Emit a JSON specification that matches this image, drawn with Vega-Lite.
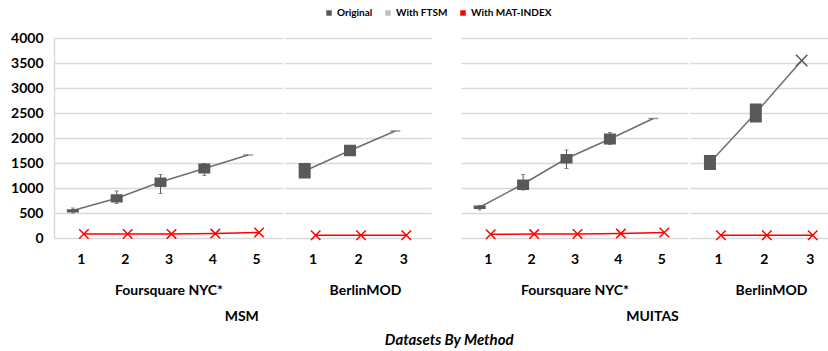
{
  "$schema": "https://vega.github.io/schema/vega-lite/v6.json",
  "padding": {"left": 10, "top": 8, "right": 0, "bottom": 2},
  "background": "white",
  "config": {
    "font": "Lato",
    "view": {"stroke": null},
    "axisX": {"grid": false, "ticks": false, "domain": false, "labelFontSize": 14, "labelFontWeight": "bold", "labelColor": "#000000", "labelPadding": 14, "labelAngle": 0, "titleFontSize": 14, "titleFontWeight": "bold", "titleColor": "#000000", "titlePadding": 17},
    "axisY": {"grid": true, "gridColor": "#d9d9d9", "gridWidth": 1.5, "ticks": false, "domain": false, "labels": false, "minExtent": 0, "maxExtent": 0, "labelOverlap": false}
  },
  "data": {"values": [
    {"method": "MSM", "dataset": "Foursquare NYC*", "x": 1, "series": "Original", "value": 550, "lo": 510, "hi": 575, "elo": 500, "ehi": 600},
    {"method": "MSM", "dataset": "Foursquare NYC*", "x": 2, "series": "Original", "value": 795, "lo": 710, "hi": 875, "elo": 690, "ehi": 940},
    {"method": "MSM", "dataset": "Foursquare NYC*", "x": 3, "series": "Original", "value": 1120, "lo": 1020, "hi": 1210, "elo": 890, "ehi": 1270},
    {"method": "MSM", "dataset": "Foursquare NYC*", "x": 4, "series": "Original", "value": 1390, "lo": 1290, "hi": 1490, "elo": 1250, "ehi": 1490},
    {"method": "MSM", "dataset": "Foursquare NYC*", "x": 5, "series": "Original", "value": 1660},
    {"method": "MSM", "dataset": "BerlinMOD", "x": 1, "series": "Original", "value": 1340, "lo": 1190, "hi": 1500},
    {"method": "MSM", "dataset": "BerlinMOD", "x": 2, "series": "Original", "value": 1750, "lo": 1635, "hi": 1865},
    {"method": "MSM", "dataset": "BerlinMOD", "x": 3, "series": "Original", "value": 2140},
    {"method": "MUITAS", "dataset": "Foursquare NYC*", "x": 1, "series": "Original", "value": 615, "lo": 580, "hi": 650, "elo": 560, "ehi": 650},
    {"method": "MUITAS", "dataset": "Foursquare NYC*", "x": 2, "series": "Original", "value": 1080, "lo": 960, "hi": 1170, "elo": 960, "ehi": 1270},
    {"method": "MUITAS", "dataset": "Foursquare NYC*", "x": 3, "series": "Original", "value": 1590, "lo": 1490, "hi": 1680, "elo": 1390, "ehi": 1760},
    {"method": "MUITAS", "dataset": "Foursquare NYC*", "x": 4, "series": "Original", "value": 1980, "lo": 1870, "hi": 2090, "elo": 1870, "ehi": 2110},
    {"method": "MUITAS", "dataset": "Foursquare NYC*", "x": 5, "series": "Original", "value": 2390},
    {"method": "MUITAS", "dataset": "BerlinMOD", "x": 1, "series": "Original", "value": 1510, "lo": 1360, "hi": 1660},
    {"method": "MUITAS", "dataset": "BerlinMOD", "x": 2, "series": "Original", "value": 2500, "lo": 2310, "hi": 2690},
    {"method": "MUITAS", "dataset": "BerlinMOD", "x": 3, "series": "Original", "value": 3550},
    {"method": "MSM", "dataset": "Foursquare NYC*", "x": 1, "series": "With MAT-INDEX", "value": 80},
    {"method": "MSM", "dataset": "Foursquare NYC*", "x": 2, "series": "With MAT-INDEX", "value": 80},
    {"method": "MSM", "dataset": "Foursquare NYC*", "x": 3, "series": "With MAT-INDEX", "value": 82},
    {"method": "MSM", "dataset": "Foursquare NYC*", "x": 4, "series": "With MAT-INDEX", "value": 88},
    {"method": "MSM", "dataset": "Foursquare NYC*", "x": 5, "series": "With MAT-INDEX", "value": 110},
    {"method": "MSM", "dataset": "BerlinMOD", "x": 1, "series": "With MAT-INDEX", "value": 55},
    {"method": "MSM", "dataset": "BerlinMOD", "x": 2, "series": "With MAT-INDEX", "value": 55},
    {"method": "MSM", "dataset": "BerlinMOD", "x": 3, "series": "With MAT-INDEX", "value": 55},
    {"method": "MUITAS", "dataset": "Foursquare NYC*", "x": 1, "series": "With MAT-INDEX", "value": 75},
    {"method": "MUITAS", "dataset": "Foursquare NYC*", "x": 2, "series": "With MAT-INDEX", "value": 78},
    {"method": "MUITAS", "dataset": "Foursquare NYC*", "x": 3, "series": "With MAT-INDEX", "value": 80},
    {"method": "MUITAS", "dataset": "Foursquare NYC*", "x": 4, "series": "With MAT-INDEX", "value": 88},
    {"method": "MUITAS", "dataset": "Foursquare NYC*", "x": 5, "series": "With MAT-INDEX", "value": 110},
    {"method": "MUITAS", "dataset": "BerlinMOD", "x": 1, "series": "With MAT-INDEX", "value": 55},
    {"method": "MUITAS", "dataset": "BerlinMOD", "x": 2, "series": "With MAT-INDEX", "value": 55},
    {"method": "MUITAS", "dataset": "BerlinMOD", "x": 3, "series": "With MAT-INDEX", "value": 55}
  ]},
  "title": {"text": "Datasets By Method", "orient": "bottom", "anchor": "middle", "frame": "bounds", "dx": 30, "fontSize": 15, "fontStyle": "italic", "fontWeight": "bold", "color": "#000000", "offset": 9},
  "spacing": 30,
  "hconcat": [
    {
      "title": {"text": "MSM", "orient": "bottom", "anchor": "middle", "frame": "bounds", "dx": 21, "fontSize": 14, "fontWeight": "bold", "color": "#000000", "offset": 13},
      "spacing": 2,
      "hconcat": [
        {
          "width": 229, "height": 200,
          "transform": [{"filter": "datum.method == 'MSM' && datum.dataset == 'Foursquare NYC*'"}],
          "encoding": {"x": {"field": "x", "type": "quantitative", "title": "Foursquare NYC*", "scale": {"domain": [0.5, 5.5], "nice": false, "zero": false}, "axis": {"values": [1, 2, 3, 4, 5], "format": "d"}}},
          "layer": [
            {"transform": [{"filter": "datum.series == 'Original'"}], "mark": {"type": "line", "color": "#6e6e6e", "strokeWidth": 1.5, "xOffset": -8}, "encoding": {"y": {"field": "value", "type": "quantitative", "title": null, "scale": {"domain": [0, 4000]}, "axis": {"labels": true, "format": "d", "labelFontSize": 14, "labelFontWeight": "bold", "labelColor": "#000000", "labelPadding": 11, "domain": true, "domainColor": "#d9d9d9", "domainWidth": 1.5, "minExtent": 30, "maxExtent": 100, "values": [0, 500, 1000, 1500, 2000, 2500, 3000, 3500, 4000]}}}},
            {"transform": [{"filter": "datum.series == 'Original' && isValid(datum.elo)"}], "mark": {"type": "rule", "color": "#595959", "strokeWidth": 1, "xOffset": -8}, "encoding": {"y": {"field": "elo", "type": "quantitative", "title": null, "scale": {"domain": [0, 4000]}, "axis": {"labels": true, "format": "d", "labelFontSize": 14, "labelFontWeight": "bold", "labelColor": "#000000", "labelPadding": 11, "domain": true, "domainColor": "#d9d9d9", "domainWidth": 1.5, "minExtent": 30, "maxExtent": 100, "values": [0, 500, 1000, 1500, 2000, 2500, 3000, 3500, 4000]}}, "y2": {"field": "ehi"}}},
            {"transform": [{"filter": "datum.series == 'Original' && isValid(datum.elo)"}, {"fold": ["elo", "ehi"], "as": ["cap", "capValue"]}], "mark": {"type": "tick", "orient": "horizontal", "size": 4, "thickness": 1, "color": "#595959", "xOffset": -8}, "encoding": {"y": {"field": "capValue", "type": "quantitative", "title": null, "scale": {"domain": [0, 4000]}, "axis": {"labels": true, "format": "d", "labelFontSize": 14, "labelFontWeight": "bold", "labelColor": "#000000", "labelPadding": 11, "domain": true, "domainColor": "#d9d9d9", "domainWidth": 1.5, "minExtent": 30, "maxExtent": 100, "values": [0, 500, 1000, 1500, 2000, 2500, 3000, 3500, 4000]}}}},
            {"transform": [{"filter": "datum.series == 'Original' && isValid(datum.lo)"}], "mark": {"type": "bar", "size": 12, "xOffset": -8}, "encoding": {"y": {"field": "lo", "type": "quantitative", "title": null, "scale": {"domain": [0, 4000]}, "axis": {"labels": true, "format": "d", "labelFontSize": 14, "labelFontWeight": "bold", "labelColor": "#000000", "labelPadding": 11, "domain": true, "domainColor": "#d9d9d9", "domainWidth": 1.5, "minExtent": 30, "maxExtent": 100, "values": [0, 500, 1000, 1500, 2000, 2500, 3000, 3500, 4000]}}, "y2": {"field": "hi"}, "color": {"field": "series", "type": "nominal", "scale": {"domain": ["Original", "With FTSM", "With MAT-INDEX"], "range": ["#595959", "#bfbfbf", "#ff0000"]}, "legend": {"title": null, "orient": "none", "direction": "horizontal", "legendX": 270, "legendY": -30, "symbolType": "square", "symbolSize": 30, "symbolStrokeWidth": 0, "labelFontSize": 10, "labelFontWeight": "bold", "labelColor": "#000000", "columnPadding": 10, "labelOffset": 3}}}},
            {"transform": [{"filter": "datum.series == 'Original' && !isValid(datum.lo)"}], "mark": {"type": "tick", "orient": "horizontal", "size": 10, "thickness": 1.5, "color": "#6e6e6e", "xOffset": -8}, "encoding": {"y": {"field": "value", "type": "quantitative", "title": null, "scale": {"domain": [0, 4000]}, "axis": {"labels": true, "format": "d", "labelFontSize": 14, "labelFontWeight": "bold", "labelColor": "#000000", "labelPadding": 11, "domain": true, "domainColor": "#d9d9d9", "domainWidth": 1.5, "minExtent": 30, "maxExtent": 100, "values": [0, 500, 1000, 1500, 2000, 2500, 3000, 3500, 4000]}}}},
            {"transform": [{"filter": "datum.series == 'With MAT-INDEX'"}], "mark": {"type": "line", "color": "#ff0000", "strokeWidth": 1.5, "xOffset": 3}, "encoding": {"y": {"field": "value", "type": "quantitative", "title": null, "scale": {"domain": [0, 4000]}, "axis": {"labels": true, "format": "d", "labelFontSize": 14, "labelFontWeight": "bold", "labelColor": "#000000", "labelPadding": 11, "domain": true, "domainColor": "#d9d9d9", "domainWidth": 1.5, "minExtent": 30, "maxExtent": 100, "values": [0, 500, 1000, 1500, 2000, 2500, 3000, 3500, 4000]}}}},
            {"transform": [{"filter": "datum.series == 'With MAT-INDEX'"}], "mark": {"type": "point", "shape": "M-1,-1L1,1M1,-1L-1,1", "filled": false, "color": "#ff0000", "size": 90, "strokeWidth": 1.5, "opacity": 1, "xOffset": 3}, "encoding": {"y": {"field": "value", "type": "quantitative", "title": null, "scale": {"domain": [0, 4000]}, "axis": {"labels": true, "format": "d", "labelFontSize": 14, "labelFontWeight": "bold", "labelColor": "#000000", "labelPadding": 11, "domain": true, "domainColor": "#d9d9d9", "domainWidth": 1.5, "minExtent": 30, "maxExtent": 100, "values": [0, 500, 1000, 1500, 2000, 2500, 3000, 3500, 4000]}}}}
          ]
        },
        {
          "width": 146, "height": 200,
          "transform": [{"filter": "datum.method == 'MSM' && datum.dataset == 'BerlinMOD'"}],
          "encoding": {"x": {"field": "x", "type": "quantitative", "title": "BerlinMOD", "scale": {"domain": [0.5, 3.5], "nice": false, "zero": false}, "axis": {"values": [1, 2, 3], "format": "d", "titleX": 80}}},
          "layer": [
            {"transform": [{"filter": "datum.series == 'Original'"}], "mark": {"type": "line", "color": "#6e6e6e", "strokeWidth": 1.5, "xOffset": -8}, "encoding": {"y": {"field": "value", "type": "quantitative", "title": null, "scale": {"domain": [0, 4000]}, "axis": {"values": [0, 500, 1000, 1500, 2000, 2500, 3000, 3500, 4000]}}}},
            {"transform": [{"filter": "datum.series == 'Original' && isValid(datum.lo)"}], "mark": {"type": "bar", "size": 12, "xOffset": -8}, "encoding": {"y": {"field": "lo", "type": "quantitative", "title": null, "scale": {"domain": [0, 4000]}, "axis": {"values": [0, 500, 1000, 1500, 2000, 2500, 3000, 3500, 4000]}}, "y2": {"field": "hi"}, "color": {"field": "series", "type": "nominal", "scale": {"domain": ["Original", "With FTSM", "With MAT-INDEX"], "range": ["#595959", "#bfbfbf", "#ff0000"]}, "legend": {"title": null, "orient": "none", "direction": "horizontal", "legendX": 270, "legendY": -30, "symbolType": "square", "symbolSize": 30, "symbolStrokeWidth": 0, "labelFontSize": 10, "labelFontWeight": "bold", "labelColor": "#000000", "columnPadding": 10, "labelOffset": 3}}}},
            {"transform": [{"filter": "datum.series == 'Original' && !isValid(datum.lo)"}], "mark": {"type": "tick", "orient": "horizontal", "size": 10, "thickness": 1.5, "color": "#6e6e6e", "xOffset": -8}, "encoding": {"y": {"field": "value", "type": "quantitative", "title": null, "scale": {"domain": [0, 4000]}, "axis": {"values": [0, 500, 1000, 1500, 2000, 2500, 3000, 3500, 4000]}}}},
            {"transform": [{"filter": "datum.series == 'With MAT-INDEX'"}], "mark": {"type": "line", "color": "#ff0000", "strokeWidth": 1.5, "xOffset": 3}, "encoding": {"y": {"field": "value", "type": "quantitative", "title": null, "scale": {"domain": [0, 4000]}, "axis": {"values": [0, 500, 1000, 1500, 2000, 2500, 3000, 3500, 4000]}}}},
            {"transform": [{"filter": "datum.series == 'With MAT-INDEX'"}], "mark": {"type": "point", "shape": "M-1,-1L1,1M1,-1L-1,1", "filled": false, "color": "#ff0000", "size": 90, "strokeWidth": 1.5, "opacity": 1, "xOffset": 3}, "encoding": {"y": {"field": "value", "type": "quantitative", "title": null, "scale": {"domain": [0, 4000]}, "axis": {"values": [0, 500, 1000, 1500, 2000, 2500, 3000, 3500, 4000]}}}}
          ]
        }
      ]
    },
    {
      "title": {"text": "MUITAS", "orient": "bottom", "anchor": "middle", "frame": "bounds", "dx": 8, "fontSize": 14, "fontWeight": "bold", "color": "#000000", "offset": 13},
      "spacing": 2,
      "hconcat": [
        {
          "width": 227, "height": 200,
          "transform": [{"filter": "datum.method == 'MUITAS' && datum.dataset == 'Foursquare NYC*'"}],
          "encoding": {"x": {"field": "x", "type": "quantitative", "title": "Foursquare NYC*", "scale": {"domain": [0.5, 5.5], "nice": false, "zero": false}, "axis": {"values": [1, 2, 3, 4, 5], "format": "d"}}},
          "layer": [
            {"transform": [{"filter": "datum.series == 'Original'"}], "mark": {"type": "line", "color": "#6e6e6e", "strokeWidth": 1.5, "xOffset": -8}, "encoding": {"y": {"field": "value", "type": "quantitative", "title": null, "scale": {"domain": [0, 4000]}, "axis": {"values": [0, 500, 1000, 1500, 2000, 2500, 3000, 3500, 4000]}}}},
            {"transform": [{"filter": "datum.series == 'Original' && isValid(datum.elo)"}], "mark": {"type": "rule", "color": "#595959", "strokeWidth": 1, "xOffset": -8}, "encoding": {"y": {"field": "elo", "type": "quantitative", "title": null, "scale": {"domain": [0, 4000]}, "axis": {"values": [0, 500, 1000, 1500, 2000, 2500, 3000, 3500, 4000]}}, "y2": {"field": "ehi"}}},
            {"transform": [{"filter": "datum.series == 'Original' && isValid(datum.elo)"}, {"fold": ["elo", "ehi"], "as": ["cap", "capValue"]}], "mark": {"type": "tick", "orient": "horizontal", "size": 4, "thickness": 1, "color": "#595959", "xOffset": -8}, "encoding": {"y": {"field": "capValue", "type": "quantitative", "title": null, "scale": {"domain": [0, 4000]}, "axis": {"values": [0, 500, 1000, 1500, 2000, 2500, 3000, 3500, 4000]}}}},
            {"transform": [{"filter": "datum.series == 'Original' && isValid(datum.lo)"}], "mark": {"type": "bar", "size": 12, "xOffset": -8}, "encoding": {"y": {"field": "lo", "type": "quantitative", "title": null, "scale": {"domain": [0, 4000]}, "axis": {"values": [0, 500, 1000, 1500, 2000, 2500, 3000, 3500, 4000]}}, "y2": {"field": "hi"}, "color": {"field": "series", "type": "nominal", "scale": {"domain": ["Original", "With FTSM", "With MAT-INDEX"], "range": ["#595959", "#bfbfbf", "#ff0000"]}, "legend": {"title": null, "orient": "none", "direction": "horizontal", "legendX": 270, "legendY": -30, "symbolType": "square", "symbolSize": 30, "symbolStrokeWidth": 0, "labelFontSize": 10, "labelFontWeight": "bold", "labelColor": "#000000", "columnPadding": 10, "labelOffset": 3}}}},
            {"transform": [{"filter": "datum.series == 'Original' && !isValid(datum.lo)"}], "mark": {"type": "tick", "orient": "horizontal", "size": 10, "thickness": 1.5, "color": "#6e6e6e", "xOffset": -8}, "encoding": {"y": {"field": "value", "type": "quantitative", "title": null, "scale": {"domain": [0, 4000]}, "axis": {"values": [0, 500, 1000, 1500, 2000, 2500, 3000, 3500, 4000]}}}},
            {"transform": [{"filter": "datum.series == 'With MAT-INDEX'"}], "mark": {"type": "line", "color": "#ff0000", "strokeWidth": 1.5, "xOffset": 3}, "encoding": {"y": {"field": "value", "type": "quantitative", "title": null, "scale": {"domain": [0, 4000]}, "axis": {"values": [0, 500, 1000, 1500, 2000, 2500, 3000, 3500, 4000]}}}},
            {"transform": [{"filter": "datum.series == 'With MAT-INDEX'"}], "mark": {"type": "point", "shape": "M-1,-1L1,1M1,-1L-1,1", "filled": false, "color": "#ff0000", "size": 90, "strokeWidth": 1.5, "opacity": 1, "xOffset": 3}, "encoding": {"y": {"field": "value", "type": "quantitative", "title": null, "scale": {"domain": [0, 4000]}, "axis": {"values": [0, 500, 1000, 1500, 2000, 2500, 3000, 3500, 4000]}}}}
          ]
        },
        {
          "width": 138, "height": 200,
          "transform": [{"filter": "datum.method == 'MUITAS' && datum.dataset == 'BerlinMOD'"}],
          "encoding": {"x": {"field": "x", "type": "quantitative", "title": "BerlinMOD", "scale": {"domain": [0.5, 3.29], "nice": false, "zero": false}, "axis": {"values": [1, 2, 3], "format": "d", "titleX": 81}}},
          "layer": [
            {"transform": [{"filter": "datum.series == 'Original'"}], "mark": {"type": "line", "color": "#6e6e6e", "strokeWidth": 1.5, "xOffset": -8}, "encoding": {"y": {"field": "value", "type": "quantitative", "title": null, "scale": {"domain": [0, 4000]}, "axis": {"values": [0, 500, 1000, 1500, 2000, 2500, 3000, 3500, 4000]}}}},
            {"transform": [{"filter": "datum.series == 'Original' && isValid(datum.lo)"}], "mark": {"type": "bar", "size": 12, "xOffset": -8}, "encoding": {"y": {"field": "lo", "type": "quantitative", "title": null, "scale": {"domain": [0, 4000]}, "axis": {"values": [0, 500, 1000, 1500, 2000, 2500, 3000, 3500, 4000]}}, "y2": {"field": "hi"}, "color": {"field": "series", "type": "nominal", "scale": {"domain": ["Original", "With FTSM", "With MAT-INDEX"], "range": ["#595959", "#bfbfbf", "#ff0000"]}, "legend": {"title": null, "orient": "none", "direction": "horizontal", "legendX": 270, "legendY": -30, "symbolType": "square", "symbolSize": 30, "symbolStrokeWidth": 0, "labelFontSize": 10, "labelFontWeight": "bold", "labelColor": "#000000", "columnPadding": 10, "labelOffset": 3}}}},
            {"transform": [{"filter": "datum.series == 'Original' && !isValid(datum.lo)"}], "mark": {"type": "point", "shape": "M-1,-1L1,1M1,-1L-1,1", "filled": false, "color": "#595959", "size": 130, "strokeWidth": 1.5, "opacity": 1, "xOffset": -8}, "encoding": {"y": {"field": "value", "type": "quantitative", "title": null, "scale": {"domain": [0, 4000]}, "axis": {"values": [0, 500, 1000, 1500, 2000, 2500, 3000, 3500, 4000]}}}},
            {"transform": [{"filter": "datum.series == 'With MAT-INDEX'"}], "mark": {"type": "line", "color": "#ff0000", "strokeWidth": 1.5, "xOffset": 3}, "encoding": {"y": {"field": "value", "type": "quantitative", "title": null, "scale": {"domain": [0, 4000]}, "axis": {"values": [0, 500, 1000, 1500, 2000, 2500, 3000, 3500, 4000]}}}},
            {"transform": [{"filter": "datum.series == 'With MAT-INDEX'"}], "mark": {"type": "point", "shape": "M-1,-1L1,1M1,-1L-1,1", "filled": false, "color": "#ff0000", "size": 90, "strokeWidth": 1.5, "opacity": 1, "xOffset": 3}, "encoding": {"y": {"field": "value", "type": "quantitative", "title": null, "scale": {"domain": [0, 4000]}, "axis": {"values": [0, 500, 1000, 1500, 2000, 2500, 3000, 3500, 4000]}}}}
          ]
        }
      ]
    }
  ]
}
